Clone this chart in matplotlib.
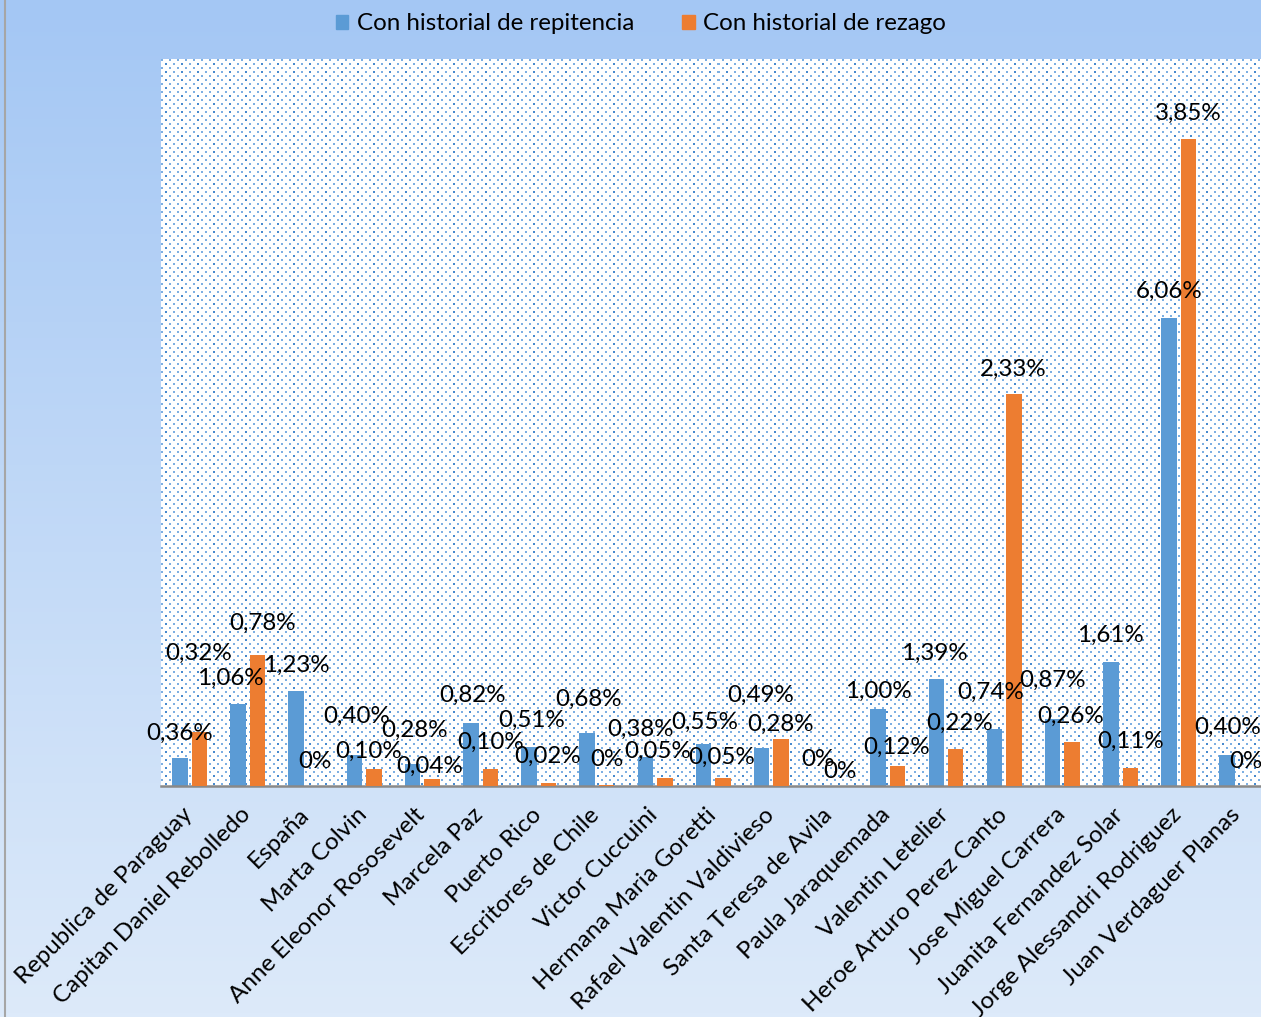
import matplotlib.pyplot as plt
import matplotlib.transforms as mtransforms
from matplotlib.patches import Patch
import numpy as np

plt.rcParams['font.family'] = ['Lato', 'DejaVu Sans']

# data (percent)
schools = ['Republica de Paraguay', 'Capitan Daniel Rebolledo', 'España', 'Marta Colvin',
           'Anne Eleonor Rososevelt', 'Marcela Paz', 'Puerto Rico', 'Escritores de Chile',
           'Victor Cuccuini', 'Hermana Maria Goretti', 'Rafael Valentin Valdivieso',
           'Santa Teresa de Avila', 'Paula Jaraquemada', 'Valentin Letelier',
           'Heroe Arturo Perez Canto', 'Jose Miguel Carrera', 'Juanita Fernandez Solar',
           'Jorge Alessandri Rodriguez', 'Juan Verdaguer Planas']
repitencia = [0.36, 1.06, 1.23, 0.40, 0.28, 0.82, 0.51, 0.68, 0.38, 0.55,
              0.49, 0.0, 1.00, 1.39, 0.74, 0.87, 1.61, 6.06, 0.40]
rezago = [0.32, 0.78, 0.0, 0.10, 0.04, 0.10, 0.02, 0.004, 0.05, 0.05,
          0.28, 0.0, 0.12, 0.22, 2.33, 0.26, 0.11, 3.85, 0.0]
series_names = ['Con historial de repitencia', 'Con historial de rezago']

# label nudges in pixels (dx, height above bar top)
blue_dx = [0, -8, 0, 2, 2, 2, 3, 1, -5, 1, -1, -2, 0, -2, -4, 0, 0, 0, 0]
blue_dy = [25, 26, 26, 39, 34, 27, 26, 34, 27, 21, 53, 26, 17, 25, 36, 38, 26, 26, 28]
orange_dx = [-1, 5, -1, -5, -2, 0, -1, 0, -7, -1, -1, 1, -1, 4, -1, -2, 0, 0, -1]
orange_dy = [79, 32, 25, 18, 13, 27, 26, 26, 26, 20, 15, 14, 18, 26, 25, 26, 26, 26, 25]

BLUE = '#5B9BD5'
ORANGE = '#ED7D31'
W, H = 1261, 1017
FS = 17.4

fig = plt.figure(figsize=(W / 100, H / 100), dpi=100)

# gradient background of the chart area
bg = fig.add_axes([0, 0, 1, 1], zorder=-10)
t = np.linspace(0, 1, 256)[:, None, None]
top = np.array([164, 199, 244]) / 255
bot = np.array([221, 234, 250]) / 255
bg.imshow(top + (bot - top) * t, aspect='auto', extent=[0, 1, 0, 1])
bg.axis('off')
fig.add_artist(plt.Line2D([5 / W, 5 / W], [0, 1], color='#A6A6A6', lw=1.5,
                          transform=fig.transFigure))

# plot area
left_px, right_px, top_px, base_px = 160.5, 1266, 59, 786
ax = fig.add_axes([left_px / W, 1 - base_px / H, (right_px - left_px) / W,
                   (base_px - top_px) / H])

# dotted fill of the plot area
ph, pw = int(base_px - top_px), int(right_px - left_px)
pat = np.ones((ph, pw, 3))
light = np.array([125, 175, 226]) / 255
dark = np.array([72, 138, 206]) / 255
for yy in range(0, ph, 4):
    off = 0 if (yy // 4) % 2 == 0 else 4
    for xx in range(off, pw, 8):
        strong = ((yy // 4) % 4 in (1, 3)) and ((xx // 8) % 2 == 0)
        if strong:
            pat[yy:yy + 2, xx:xx + 2] = dark
        else:
            pat[yy:yy + 2, xx:xx + 2] = light
ax.imshow(pat, extent=[0, 1, 0, 1], transform=ax.transAxes, aspect='auto',
          interpolation='nearest', zorder=0)

x = np.arange(len(schools))
w = 0.266
ax.bar(x - 0.1675, repitencia, w, color=BLUE, zorder=2)
ax.set_xlim(-0.5, len(schools) - 0.5)
ax.set_ylim(0, 9.41)

ax2 = ax.twinx()
ax2.bar(x + 0.1675, rezago, w, color=ORANGE, zorder=2)
ax2.set_ylim(0, 4.326)


def fmt(v):
    return '0%' if v < 0.005 else f'{v:.2f}%'.replace('.', ',')


# all labels on the top axes so they sit above every bar
for i in range(len(schools)):
    ax2.annotate(fmt(repitencia[i]), (x[i] - 0.1675, repitencia[i]), xycoords=ax.transData,
                 xytext=(blue_dx[i], blue_dy[i]), textcoords='offset pixels',
                 ha='center', va='center', fontsize=FS, color='black', zorder=5)
    ax2.annotate(fmt(rezago[i]), (x[i] + 0.1675, rezago[i]),
                 xytext=(orange_dx[i], orange_dy[i]), textcoords='offset pixels',
                 ha='center', va='center', fontsize=FS, color='black', zorder=5)

for a in (ax, ax2):
    for s in ('top', 'left', 'right'):
        a.spines[s].set_visible(False)
    a.set_yticks([])
ax2.spines['bottom'].set_visible(False)
ax.spines['bottom'].set_color('#898989')
ax.spines['bottom'].set_linewidth(1.8)
ax.spines['bottom'].set_zorder(3)

ax.set_xticks(x)
ax.set_xticklabels(schools, rotation=45, ha='right', va='top',
                   rotation_mode='anchor', fontsize=FS)
ax.tick_params(axis='x', length=0, pad=13)
shift = mtransforms.ScaledTranslation(-8 / 100, 0, fig.dpi_scale_trans)
for lab in ax.get_xticklabels():
    lab.set_transform(lab.get_transform() + shift)
ax2.tick_params(axis='x', length=0, labelbottom=False)

handles = [Patch(color=BLUE), Patch(color=ORANGE)]
fig.legend(handles, series_names, loc='center', bbox_to_anchor=(641 / W, 1 - 24 / H),
           ncol=2, frameon=False, fontsize=FS, handlelength=0.5, handleheight=0.5,
           handletextpad=0.35, columnspacing=2.0)

fig.savefig('out.png', dpi=100)
